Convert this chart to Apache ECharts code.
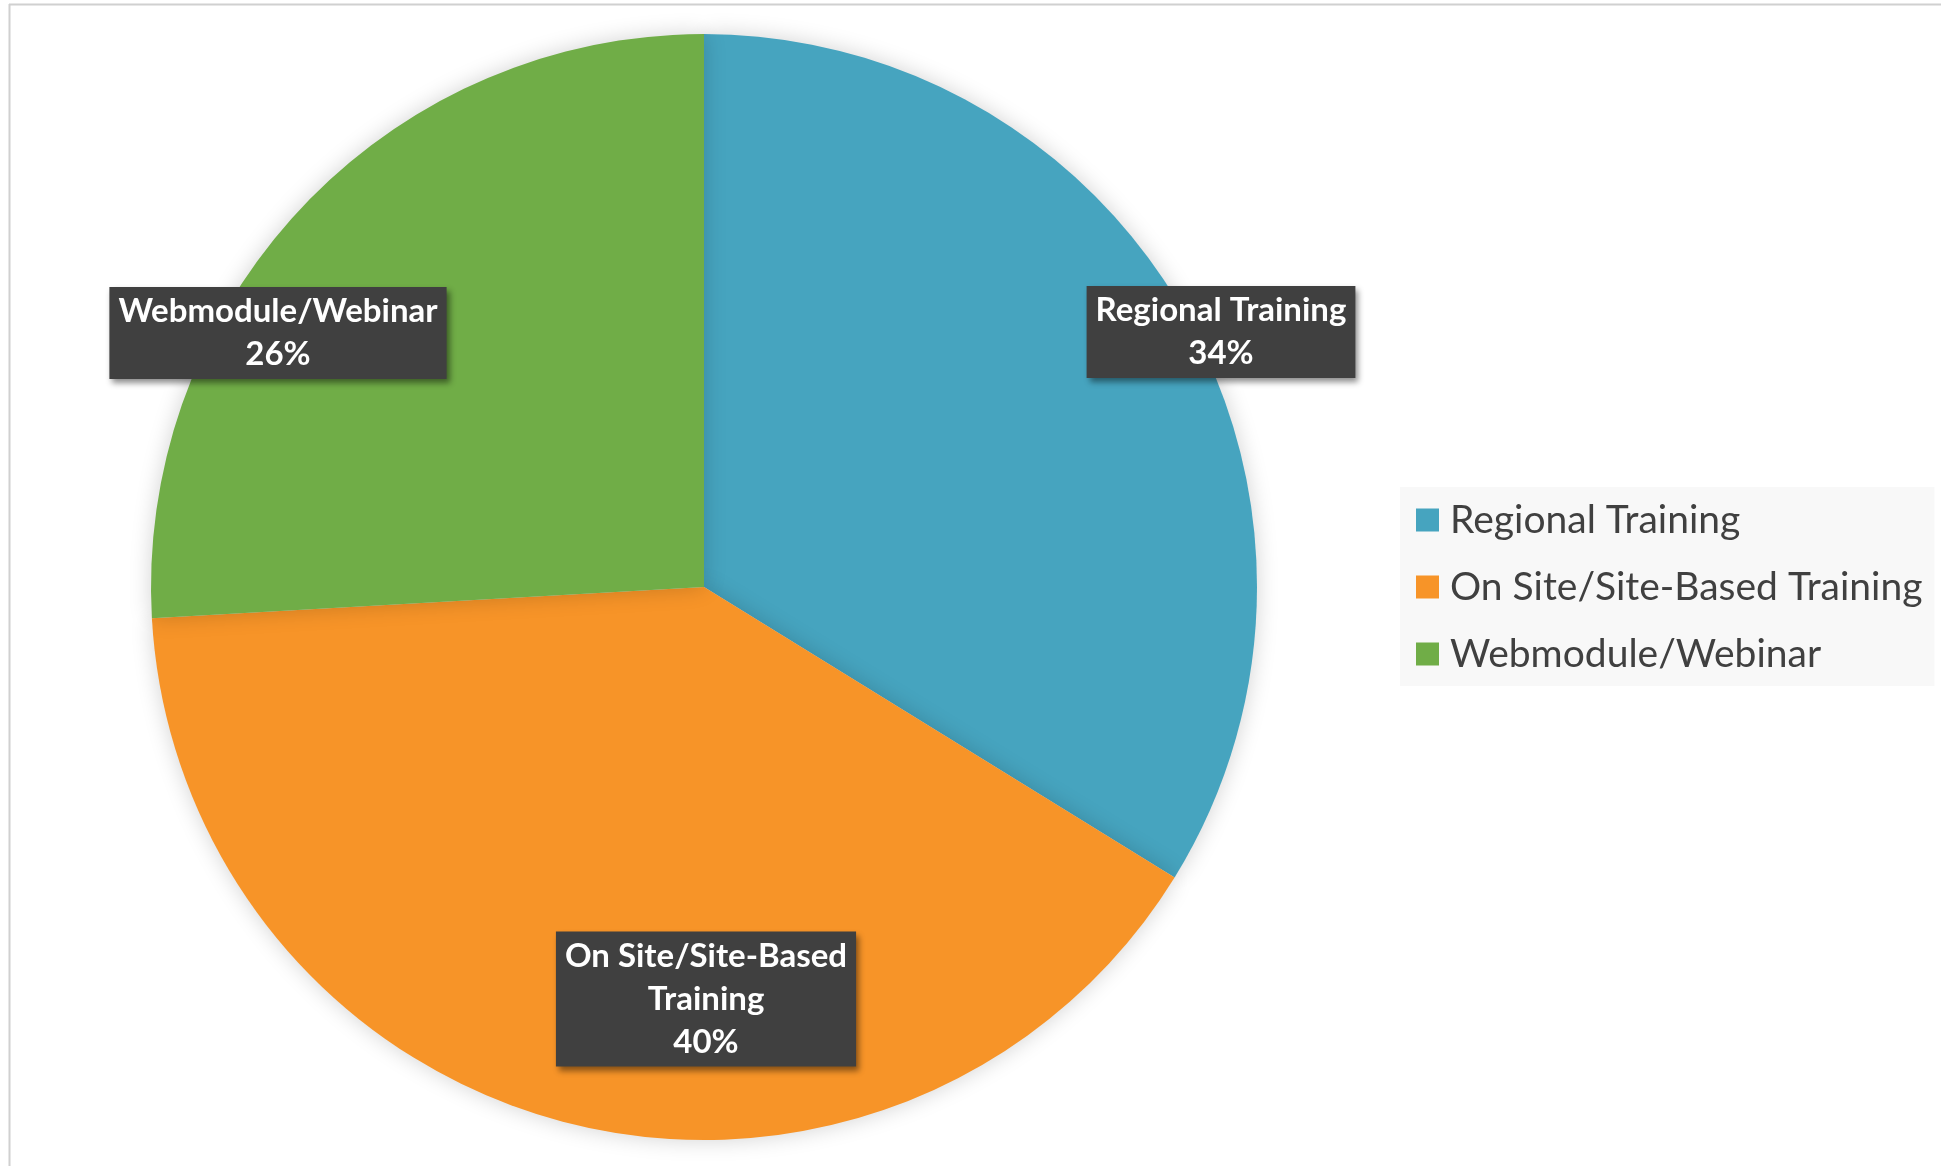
<!DOCTYPE html>
<html>
<head>
<meta charset="utf-8">
<script src="https://cdn.jsdelivr.net/npm/echarts@6/dist/echarts.min.js"></script>
<style>
  html, body { margin: 0; padding: 0; background: #fff; }
  #chart { width: 1941px; height: 1166px; }
</style>
</head>
<body>
<div id="chart"></div>
<script>
const categories = ['Regional Training', 'On Site/Site-Based Training', 'Webmodule/Webinar']
const shares = [33.8, 40.3, 25.9]
const colors = ['#46a4bf', '#f79428', '#70ad47']
// label text as it wraps in the picture
const labelNames = ['Regional Training', 'On Site/Site-Based\nTraining', 'Webmodule/Webinar']
// where the labels sit (Excel best-fit)
const labelSpots = [[1221, 332], [706, 999], [278, 333]]

const chart = echarts.init(document.getElementById('chart'))

const data = categories.map((name, i) => ({
    name,
    value: shares[i],
    itemStyle: { color: colors[i] }
}))

chart.setOption({
    animation: false,
    graphic: [
        { type: 'line', shape: { x1: 9.5, y1: 4, x2: 9.5, y2: 1166 }, style: { stroke: '#d0d0d0', lineWidth: 2 } },
        { type: 'line', shape: { x1: 9, y1: 4.5, x2: 1941, y2: 4.5 }, style: { stroke: '#d0d0d0', lineWidth: 2 } }
    ],
    legend: {
        orient: 'vertical',
        left: 1400,
        top: 487,
        padding: [11, 12, 10, 16],
        backgroundColor: '#f8f8f8',
        itemWidth: 23,
        itemHeight: 23,
        itemGap: 23,
        icon: 'rect',
        data: categories,
        textStyle: {
            fontFamily: 'Lato',
            fontSize: 39,
            color: '#404040',
            lineHeight: 44,
            padding: [0, 0, 0, 6]
        }
    },
    series: [{
        type: 'pie',
        center: [704, 587],
        radius: [0, 553],
        startAngle: 90,
        clockwise: true,
        percentPrecision: 0,
        data,
        itemStyle: {
            shadowBlur: 22,
            shadowColor: 'rgba(0,0,0,0.18)'
        },
        label: {
            position: 'inside',
            formatter: p => labelNames[p.dataIndex] + '\n' + p.percent + '%',
            fontFamily: 'Lato',
            fontWeight: 'bold',
            fontSize: 33,
            lineHeight: 43,
            color: '#ffffff',
            backgroundColor: '#404040',
            padding: [3, 9, 3, 9],
            overflow: 'none',
            shadowBlur: 6,
            shadowOffsetX: 3,
            shadowOffsetY: 4,
            shadowColor: 'rgba(0,0,0,0.45)',
            align: 'center'
        },
        labelLine: { show: false },
        labelLayout: p => ({
            x: labelSpots[p.dataIndex][0],
            y: labelSpots[p.dataIndex][1],
            align: 'center',
            verticalAlign: 'middle'
        }),
        emphasis: { disabled: true }
    }]
})
</script>
</body>
</html>
